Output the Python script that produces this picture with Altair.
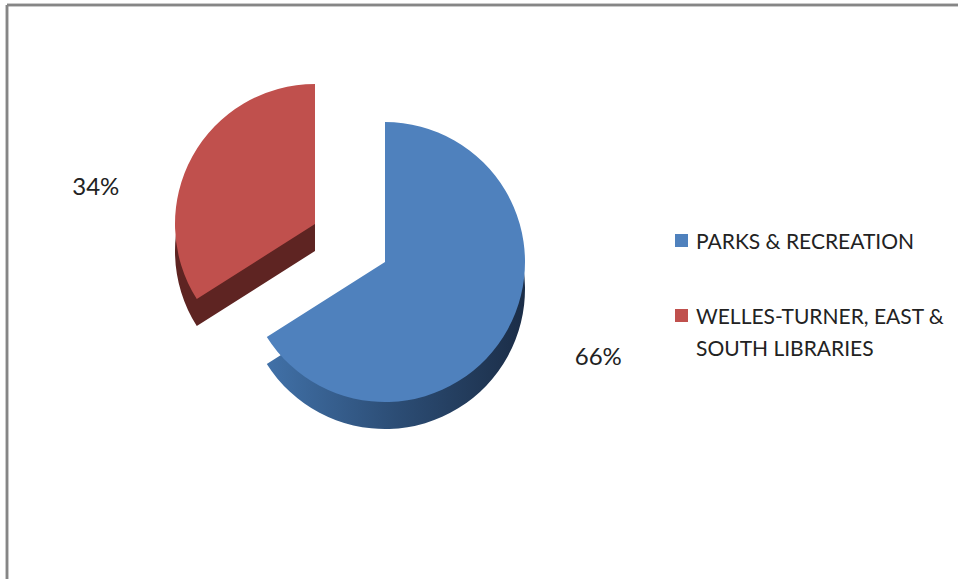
import altair as alt
import pandas as pd

categories = ["PARKS & RECREATION", "WELLES-TURNER, EAST & SOUTH LIBRARIES"]
values = [66, 34]
labels = ["66%", "34%"]
order = [1, 2]
top_colors = ["#4F81BD", "#C0504D"]

df = pd.DataFrame({"cat": categories, "value": values, "label": labels, "order": order})

W, H = 958, 579
R = 140
DEPTH = 27
CX, CY = 385, 262
EX, EY = -70, -38  # explosion offset of the red slice

base = (
    alt.Chart(df)
    .transform_window(cum="sum(value)", sort=[{"field": "order"}])
    .transform_calculate(start="datum.cum - datum.value", mid="datum.cum - datum.value/2")
)

theta = alt.Theta("start:Q", scale=alt.Scale(domain=[0, 100]))
theta2 = alt.Theta2("cum:Q")
color = alt.Color(
    "cat:N",
    scale=alt.Scale(domain=categories, range=top_colors),
    sort=categories,
    legend=alt.Legend(
        title=None, orient="none", legendX=671, legendY=230,
        symbolType="square", symbolSize=169, symbolStrokeWidth=0,
        labelFont="Lato", labelFontSize=21, labelColor="#222222",
        labelLimit=500, rowPadding=52, labelOffset=4,
        labelBaseline="top",
        labelExpr="datum.label == 'WELLES-TURNER, EAST & SOUTH LIBRARIES' ? ['WELLES-TURNER, EAST &', 'SOUTH LIBRARIES'] : datum.label",
    ),
)


def sel(name):
    return alt.datum.cat == name


blue_side = base.transform_filter(sel(categories[0])).mark_arc(
    radius=R,
    fill=alt.Gradient(
        gradient="linear",
        x1=0, x2=1, y1=0, y2=0,
        stops=[alt.GradientStop(color="#4171A8", offset=0),
               alt.GradientStop(color="#2C4D75", offset=0.5),
               alt.GradientStop(color="#1B2D47", offset=1)],
    ),
).encode(theta=theta, theta2=theta2, x=alt.value(CX), y=alt.value(CY + DEPTH))

blue_top = base.transform_filter(sel(categories[0])).mark_arc(radius=R).encode(
    theta=theta, theta2=theta2, x=alt.value(CX), y=alt.value(CY), color=color
)

red_side = base.transform_filter(sel(categories[1])).mark_arc(radius=R, fill="#5E2422").encode(
    theta=theta, theta2=theta2, x=alt.value(CX + EX), y=alt.value(CY + EY + DEPTH)
)
red_top = base.transform_filter(sel(categories[1])).mark_arc(radius=R).encode(
    theta=theta, theta2=theta2, x=alt.value(CX + EX), y=alt.value(CY + EY), color=color
)

blue_lbl = base.transform_filter(sel(categories[0])).mark_text(
    radius=R + 60, font="Lato", fontSize=24, color="#222222", dx=38, dy=0
).encode(theta=alt.Theta("mid:Q", scale=alt.Scale(domain=[0, 100])), text="label:N",
         x=alt.value(CX), y=alt.value(CY))

red_lbl = base.transform_filter(sel(categories[1])).mark_text(
    radius=R + 60, font="Lato", fontSize=24, color="#222222", dx=-44, dy=60
).encode(theta=alt.Theta("mid:Q", scale=alt.Scale(domain=[0, 100])), text="label:N",
         x=alt.value(CX + EX), y=alt.value(CY + EY))

border_top = alt.Chart(df).mark_rule(color="#868686", strokeWidth=2.5).encode(
    x=alt.value(7), x2=alt.value(W), y=alt.value(5)
)
border_left = alt.Chart(df).mark_rule(color="#868686", strokeWidth=2.5).encode(
    x=alt.value(7), y=alt.value(5), y2=alt.value(H)
)

chart = (
    alt.layer(red_side, red_top, blue_side, blue_top, blue_lbl, red_lbl, border_top, border_left)
    .properties(width=W, height=H, padding=0, autosize=alt.AutoSizeParams(type="none"))
    .configure(style={"guide-label": {"lineHeight": 32, "dy": -9}})
    .configure_view(stroke=None)
)

chart.save("out.html", embed_options={"renderer": "svg", "actions": False})
